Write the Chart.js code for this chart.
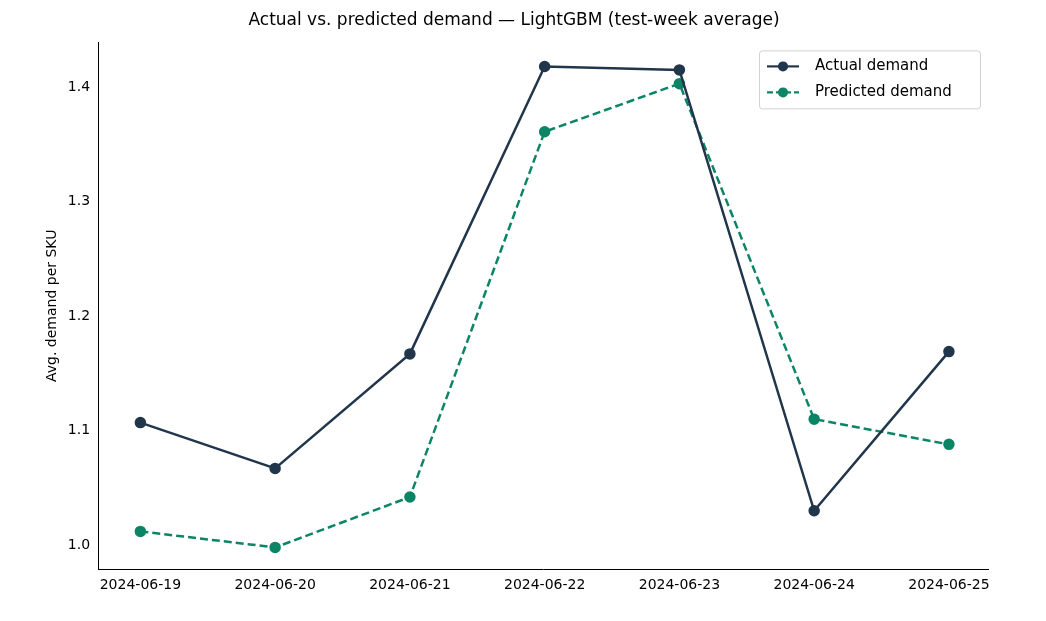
<!DOCTYPE html>
<html><head><meta charset="utf-8">
<script src="https://cdn.jsdelivr.net/npm/chart.js@4"></script>
<style>html,body{margin:0;background:#fff}#wrap{width:1046px;height:621px}</style>
</head><body><div id="wrap"><canvas id="c"></canvas></div>
<script>
const dates = ['2024-06-19','2024-06-20','2024-06-21','2024-06-22','2024-06-23','2024-06-24','2024-06-25'];
const actual = [1.107, 1.067, 1.167, 1.418, 1.415, 1.030, 1.169];
const predicted = [1.012, 0.998, 1.042, 1.361, 1.403, 1.110, 1.088];
const yTicks = [1.0, 1.1, 1.2, 1.3, 1.4];

const navy = '#22364b', teal = '#0c8566';
const font = {family: 'DejaVu Sans', size: 14};

const legendBox = {
  id: 'legendBox',
  afterDraw(chart) {
    const ctx = chart.ctx, a = chart.chartArea;
    const x = a.right - 229, y = a.top + 8, w = 221, h = 58;
    ctx.save();
    ctx.fillStyle = 'rgba(255,255,255,0.85)';
    ctx.strokeStyle = '#d0d0d0'; ctx.lineWidth = 1;
    ctx.beginPath(); ctx.roundRect(x + 0.5, y + 0.5, w, h, 3); ctx.fill(); ctx.stroke();
    const items = [['Actual demand', navy, []], ['Predicted demand', teal, [6, 3]]];
    items.forEach((it, i) => {
      const cy = y + 16 + i * 26;
      ctx.strokeStyle = it[1]; ctx.lineWidth = 2.2; ctx.setLineDash(it[2]);
      ctx.beginPath(); ctx.moveTo(x + 8, cy); ctx.lineTo(x + 40, cy); ctx.stroke();
      ctx.setLineDash([]);
      ctx.fillStyle = it[1];
      ctx.beginPath(); ctx.arc(x + 24, cy, 5, 0, Math.PI * 2); ctx.fill();
      ctx.fillStyle = '#000'; ctx.font = '15px "DejaVu Sans"'; ctx.textBaseline = 'middle';
      ctx.fillText(it[0], x + 56, cy);
    });
    ctx.restore();
  }
};

new Chart(document.getElementById('c'), {
  type: 'line',
  data: {
    datasets: [
      {label: 'Actual demand', data: actual.map((v, i) => ({x: i, y: v})), borderColor: navy, backgroundColor: navy,
       borderWidth: 2.5, pointRadius: 4.5, pointHoverRadius: 4.5, tension: 0},
      {label: 'Predicted demand', data: predicted.map((v, i) => ({x: i, y: v})), borderColor: teal, backgroundColor: teal,
       borderWidth: 2.5, borderDash: [8, 4], pointRadius: 4.5, pointHoverRadius: 4.5, tension: 0}
    ]
  },
  options: {
    responsive: true, maintainAspectRatio: false, animation: false,
    layout: {padding: {left: 40, right: 58, top: 6, bottom: 24}},
    plugins: {
      legend: {display: false}, tooltip: {enabled: false},
      title: {display: true, text: 'Actual vs. predicted demand — LightGBM (test-week average)',
              color: '#000', font: {family: 'DejaVu Sans', size: 17, weight: 'normal'}, padding: {top: 4, bottom: 12}}
    },
    scales: {
      x: {type: 'linear', min: -0.314, max: 6.29,
          afterBuildTicks: ax => { ax.ticks = dates.map((d, i) => ({value: i})); },
          ticks: {callback: v => dates[v], color: '#000', font: font, maxRotation: 0, autoSkip: false},
          grid: {display: false, drawTicks: true, tickLength: 5, tickColor: '#000'},
          border: {color: '#000', width: 1}},
      y: {min: 0.979, max: 1.439,
          afterBuildTicks: ax => { ax.ticks = yTicks.map(v => ({value: v})); },
          title: {display: true, text: 'Avg. demand per SKU', color: '#000', font: {family: 'DejaVu Sans', size: 14}},
          ticks: {callback: v => v.toFixed(1), color: '#000', font: font},
          grid: {display: false, drawTicks: true, tickLength: 5, tickColor: '#000'},
          border: {color: '#000', width: 1}}
    }
  },
  plugins: [legendBox]
});
</script></body></html>
